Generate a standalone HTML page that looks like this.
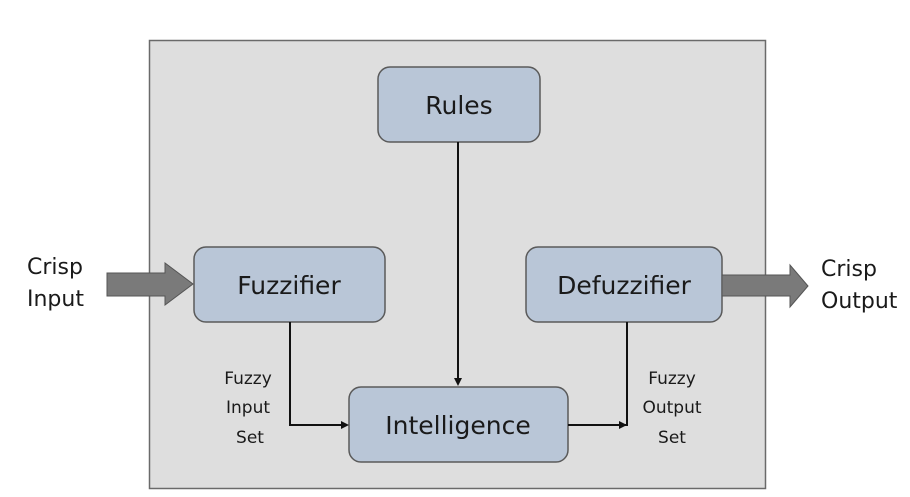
<!DOCTYPE html>
<html><head><style>
body{margin:0;background:#fff;}
svg text{font-family:"DejaVu Sans","Liberation Sans",sans-serif;fill:#1a1a1a;}
</style></head><body>
<svg width="910" height="492" viewBox="0 0 910 492">
<rect x="149.5" y="40.5" width="616" height="448" fill="#dedede" stroke="#6a6a6a" stroke-width="1.5"/>
<g fill="#b9c6d7" stroke="#5a5a5a" stroke-width="1.5">
<rect x="378" y="67" width="162" height="75" rx="12"/>
<rect x="194" y="247" width="191" height="75" rx="12"/>
<rect x="526" y="247" width="196" height="75" rx="12"/>
<rect x="349" y="387" width="219" height="75" rx="12"/>
</g>
<g fill="#7a7a7a" stroke="#555" stroke-width="1">
<polygon points="107,273 165,273 165,263 193,284 165,305 165,296 107,296"/>
<polygon points="722,275 790,275 790,265 808,286 790,307 790,296 722,296"/>
</g>
<g stroke="#111" stroke-width="2" fill="none">
<polyline points="290,322 290,425 343,425"/>
<line x1="458" y1="142" x2="458" y2="380"/>
<polyline points="568,425 627,425 627,322"/>
</g>
<g fill="#111">
<polygon points="349,425 341,421 341,429"/>
<polygon points="458,386 454,378 462,378"/>
<polygon points="627,425 619,421 619,429"/>
</g>
<g font-size="25" text-anchor="middle">
<text x="459" y="114">Rules</text>
<text x="289" y="294">Fuzzifier</text>
<text x="624" y="294">Defuzzifier</text>
<text x="458" y="434">Intelligence</text>
</g>
<g font-size="22">
<text x="27" y="274">Crisp</text>
<text x="27" y="306">Input</text>
<text x="821" y="276">Crisp</text>
<text x="821" y="308">Output</text>
</g>
<g font-size="17" text-anchor="middle">
<text x="248" y="384">Fuzzy</text>
<text x="248" y="413">Input</text>
<text x="250" y="443">Set</text>
<text x="672" y="384">Fuzzy</text>
<text x="672" y="413">Output</text>
<text x="672" y="443">Set</text>
</g>
</svg>
</body></html>
